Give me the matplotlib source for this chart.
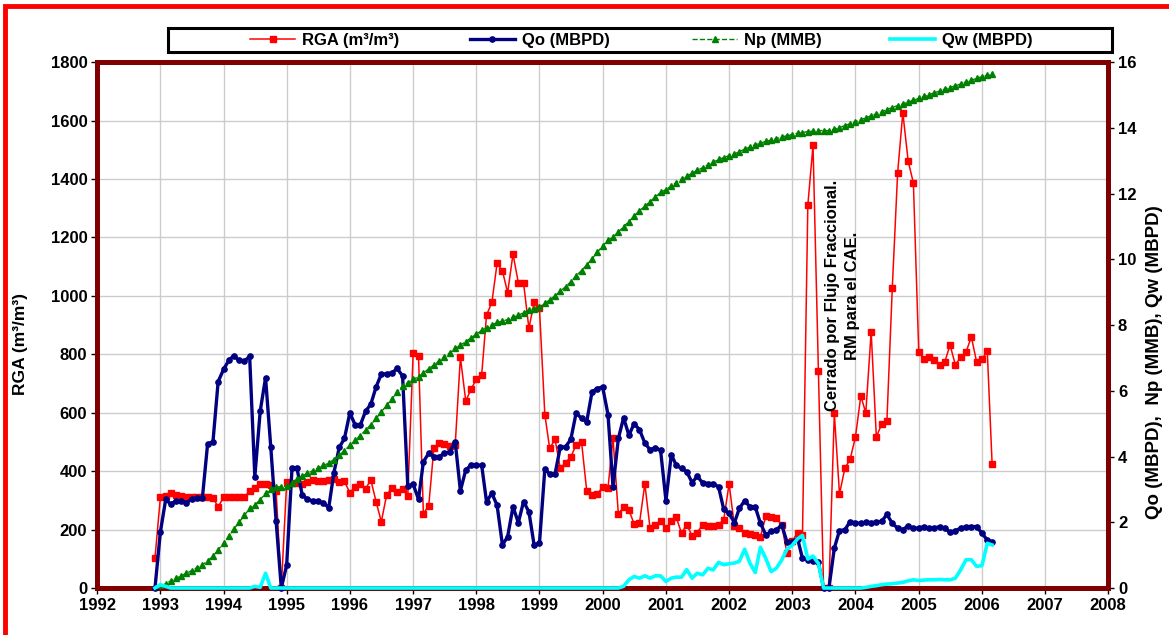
import pandas as pd
import numpy as np
import matplotlib
matplotlib.use('Agg')
import matplotlib.pyplot as plt
import matplotlib.dates as mdates
from matplotlib.patches import Rectangle

plt.rcParams['font.family'] = ['Liberation Sans', 'DejaVu Sans']
plt.rcParams['font.weight'] = 'bold'

# monthly records, Dec 1992 .. Mar 2006
fechas = pd.date_range('1992-12-01', '2006-03-01', freq='MS')

# RGA (m3/m3)
rga = [
    102,
    310, 315, 326, 318, 315, 310, 310, 310, 310, 310, 308, 278,
    310, 310, 310, 310, 310, 333, 343, 356, 357, 352, 332, 0,
    362, 360, 358, 356, 362, 370, 365, 367, 370, 372, 362, 365,
    326, 347, 357, 339, 371, 295, 227, 319, 343, 328, 338, 316,
    805, 794, 255, 281, 481, 497, 493, 487, 490, 790, 640, 680,
    714, 729, 934, 978, 1111, 1086, 1011, 1143, 1045, 1045, 889, 978,
    957, 594, 478, 509, 410, 429, 449, 489, 501, 333, 318, 322,
    345, 342, 513, 253, 277, 266, 220, 222, 357, 205, 217, 228,
    205, 228, 243, 188, 217, 179, 190, 217, 213, 213, 217, 234,
    357, 211, 205, 190, 184, 183, 175, 245, 243, 240, 216, 120,
    160, 190, 180, 1311, 1516, 744, 0, 0, 598, 322, 410, 440,
    516, 657, 600, 877, 518, 561, 573, 1026, 1421, 1627, 1461, 1387,
    809, 783, 792, 780, 763, 775, 832, 763, 792, 807, 860, 775,
    783, 811, 425,
]

# Qo (MBPD)
qo = [
    0,
    1.7, 2.7, 2.55, 2.65, 2.65, 2.6, 2.7, 2.75, 2.75, 4.38, 4.45, 6.28,
    6.65, 6.93, 7.07, 6.93, 6.9, 7.05, 3.39, 5.38, 6.4, 4.3, 2.04, 0,
    0.7, 3.66, 3.66, 2.83, 2.7, 2.65, 2.64, 2.6, 2.44, 3.51, 4.28, 4.55,
    5.33, 4.96, 4.95, 5.38, 5.59, 6.12, 6.51, 6.52, 6.55, 6.68, 6.45, 3.1,
    3.16, 2.7, 3.84, 4.1, 4.0, 4.0, 4.1, 4.15, 4.45, 2.96, 3.59, 3.74,
    3.73, 3.74, 2.63, 2.88, 2.52, 1.31, 1.56, 2.47, 1.99, 2.63, 2.32, 1.31,
    1.36, 3.62, 3.47, 3.47, 4.28, 4.3, 4.52, 5.33, 5.16, 5.06, 5.97, 6.07,
    6.12, 5.28, 3.08, 4.55, 5.18, 4.65, 5.0, 4.82, 4.41, 4.21, 4.27, 4.19,
    2.66, 4.06, 3.74, 3.64, 3.54, 3.21, 3.4, 3.2, 3.18, 3.18, 3.08, 2.39,
    2.27, 1.99, 2.42, 2.66, 2.47, 2.47, 1.97, 1.62, 1.72, 1.77, 1.92, 1.41,
    1.41, 1.5, 0.9, 0.86, 0.82, 0.78, 0, 0, 1.21, 1.75, 1.77, 2.02,
    1.98, 1.97, 2.0, 1.99, 2.0, 2.03, 2.24, 1.97, 1.82, 1.78, 1.89, 1.82,
    1.82, 1.87, 1.82, 1.82, 1.87, 1.82, 1.69, 1.75, 1.82, 1.87, 1.87, 1.87,
    1.67, 1.46, 1.41,
]

# Np (MMB)
np_mmb = [
    0,
    0.05, 0.13, 0.21, 0.29, 0.37, 0.45, 0.53, 0.62, 0.70, 0.83, 0.97, 1.16,
    1.36, 1.57, 1.79, 2.00, 2.21, 2.42, 2.53, 2.69, 2.88, 3.01, 3.08, 3.08,
    3.10, 3.21, 3.32, 3.41, 3.49, 3.57, 3.65, 3.73, 3.80, 3.91, 4.04, 4.18,
    4.34, 4.49, 4.64, 4.80, 4.97, 5.16, 5.36, 5.56, 5.76, 5.96, 6.15, 6.25,
    6.35, 6.43, 6.54, 6.67, 6.79, 6.91, 7.04, 7.16, 7.30, 7.39, 7.50, 7.61,
    7.72, 7.84, 7.92, 8.01, 8.08, 8.12, 8.17, 8.24, 8.30, 8.38, 8.46, 8.50,
    8.54, 8.66, 8.77, 8.89, 9.03, 9.17, 9.32, 9.50, 9.66, 9.83, 10.02, 10.21,
    10.41, 10.58, 10.68, 10.83, 11.00, 11.15, 11.32, 11.48, 11.62, 11.76, 11.90, 12.04,
    12.12, 12.23, 12.34, 12.44, 12.54, 12.62, 12.71, 12.79, 12.88, 12.96, 13.04, 13.10,
    13.16, 13.21, 13.28, 13.35, 13.42, 13.49, 13.54, 13.59, 13.63, 13.67, 13.73, 13.76,
    13.80, 13.84, 13.86, 13.89, 13.90, 13.92, 13.92, 13.92, 13.96, 14.01, 14.07, 14.13,
    14.19, 14.25, 14.31, 14.37, 14.43, 14.49, 14.56, 14.62, 14.68, 14.73, 14.79, 14.84,
    14.90, 14.96, 15.01, 15.07, 15.12, 15.18, 15.23, 15.28, 15.34, 15.40, 15.45, 15.51,
    15.56, 15.60, 15.65,
]

# Qw (MBPD)
qw = [
    0,
    0.1, 0.05, 0, 0, 0, 0, 0, 0, 0, 0, 0, 0,
    0, 0, 0, 0, 0, 0, 0.05, 0.02, 0.45, 0, 0, 0,
    0, 0, 0, 0, 0, 0, 0, 0, 0, 0, 0, 0,
    0, 0, 0, 0, 0, 0, 0, 0, 0, 0, 0, 0,
    0, 0, 0, 0, 0, 0, 0, 0, 0, 0, 0, 0,
    0, 0, 0, 0, 0, 0, 0, 0, 0, 0, 0, 0,
    0, 0, 0, 0, 0, 0, 0, 0, 0, 0, 0, 0,
    0, 0, 0, 0, 0.05, 0.25, 0.35, 0.3, 0.37, 0.3, 0.37, 0.37,
    0.2, 0.3, 0.33, 0.33, 0.56, 0.3, 0.45, 0.4, 0.6, 0.55, 0.78, 0.71,
    0.74, 0.76, 0.81, 1.18, 0.76, 0.47, 1.24, 0.9, 0.5, 0.6, 0.85, 1.18,
    1.3, 1.5, 1.6, 0.88, 0.97, 0.75, 0, 0, 0, 0, 0, 0,
    0, 0, 0.02, 0.05, 0.07, 0.1, 0.12, 0.13, 0.15, 0.17, 0.22, 0.25,
    0.23, 0.24, 0.25, 0.25, 0.26, 0.25, 0.25, 0.3, 0.56, 0.86, 0.86, 0.66,
    0.68, 1.36, 1.31,
]

borde = '#800000'
W, H = 1169, 635

fig = plt.figure(figsize=(W / 100, H / 100), dpi=100)
ax = fig.add_axes([0.083, 0.074, 0.865, 0.828])
ax2 = ax.twinx()

l1, = ax.plot(fechas, rga, color='#ff0000', lw=1.1, marker='s', ms=4.2,
              label='RGA (m³/m³)', zorder=3)
l2, = ax2.plot(fechas, qo, color='#000080', lw=2.4, marker='o', ms=3.8,
               label='Qo (MBPD)', zorder=3, clip_on=False)
l3, = ax2.plot(fechas, np_mmb, color='#008000', lw=1, ls='--', marker='^',
               ms=4.8, label='Np (MMB)', zorder=3)
l4, = ax2.plot(fechas, qw, color='#00ffff', lw=2.6, label='Qw (MBPD)',
               zorder=4, clip_on=False)

ax.set_xlim(pd.Timestamp('1992-01-01'), pd.Timestamp('2008-01-01'))
ax.xaxis.set_major_locator(mdates.YearLocator())
ax.xaxis.set_major_formatter(mdates.DateFormatter('%Y'))
ax.set_ylim(0, 1800)
ax.set_yticks(range(0, 1801, 200))
ax2.set_ylim(0, 16)
ax2.set_yticks(range(0, 17, 2))

ax.grid(True, color='#cccccc', lw=1)
ax.set_axisbelow(True)

for a in (ax, ax2):
    for s in a.spines.values():
        s.set_color(borde)
        s.set_linewidth(3.5)
    a.tick_params(direction='out', length=4, width=1, labelsize=12, pad=3)

ax.set_ylabel('RGA (m³/m³)', fontsize=12.5, fontweight='bold')
ax.yaxis.set_label_coords(-0.068, 0.465)
ax2.set_ylabel('Qo (MBPD),  Np (MMB), Qw (MBPD)', fontsize=13.5,
               fontweight='bold')
ax2.yaxis.set_label_coords(1.037, 0.43)

ax2.text(pd.Timestamp('2003-10-20'), 8.9,
         'Cerrado por Flujo Fraccional.\nRM para el CAE.',
         rotation=90, ha='center', va='center', multialignment='center',
         fontsize=12, fontweight='bold', linespacing=1.45, zorder=10)

# legend: one framed strip, entries placed along it
fig.add_artist(Rectangle((168 / W, 1 - 52 / H), 944 / W, 24 / H,
                         transform=fig.transFigure, facecolor='white',
                         edgecolor='black', lw=2.2))
for h, x0 in zip([l1, l2, l3, l4], [250, 470, 692, 890]):
    fig.legend(handles=[h], loc='center left',
               bbox_to_anchor=(x0 / W, 1 - 40 / H), frameon=False,
               borderpad=0, borderaxespad=0, handlelength=2.7,
               handletextpad=0.4, fontsize=12)

# red outer frame
fig.add_artist(Rectangle((0.0045, -0.05), 1.2, 1.04, transform=fig.transFigure,
                         fill=False, edgecolor='#ff0000', lw=3.5))

fig.savefig('out.png', dpi=100)
